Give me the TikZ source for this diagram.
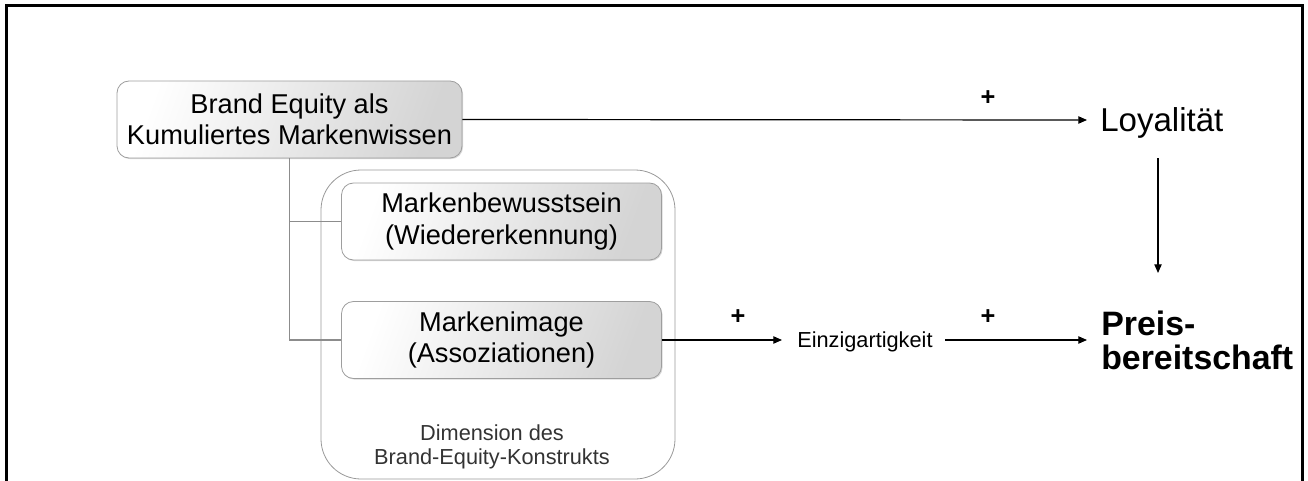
\documentclass[tikz,border=0pt]{standalone}
\usepackage{fontspec}
\setmainfont{Liberation Sans}
\usetikzlibrary{arrows.meta,shadows}

\begin{document}
\begin{tikzpicture}[x=0.75pt,y=-0.75pt,
  boxstyle/.style={draw=black!38, line width=0.6pt, rounded corners=9pt,
    left color=white, right color=black!17, shading angle=70,
    drop shadow={shadow xshift=0.8pt, shadow yshift=-0.8pt, fill=black!30, opacity=0.5},
    align=center, inner sep=0pt, text=black,
    font=\fontsize{20.4}{23.5}\selectfont},
  conn/.style={draw=black!45, line width=0.8pt},
  arr/.style={draw=black, line width=0.9pt, -{Triangle[length=6.5pt,width=5.5pt]}},
  plus/.style={font=\fontsize{19}{19}\selectfont\bfseries, inner sep=0pt},
  small/.style={font=\fontsize{16.3}{18.5}\selectfont, inner sep=0pt}]

\useasboundingbox (0,0) rectangle (1308,481);

% page frame, open at the bottom
\begin{scope}
  \clip (0,0) rectangle (1308,481);
  \draw[line width=1.6pt] (6.5,520) -- (6.5,5.5) -- (1302.5,5.5) -- (1302.5,520);

  % container of the two dimensions
  \draw[draw=black!40, line width=0.6pt, rounded corners=30pt]
    (321,170) rectangle (675,479);
\end{scope}

% boxes
\node[boxstyle, minimum width=258.75pt, minimum height=57.75pt] (be) at (289.5,119.5)
  {Brand Equity als\\Kumuliertes Markenwissen};
\node[boxstyle, minimum width=240pt, minimum height=57.75pt] (mb) at (501.5,221.5)
  {Markenbewusstsein\\(Wiedererkennung)};
\node[boxstyle, minimum width=240pt, minimum height=57.75pt] (mi) at (501.5,340)
  {Markenimage\\(Assoziationen)};

\node[small, text=black!80, align=center] (dim) at (492,447)
  {Dimension des\\Brand-Equity-Konstrukts};

% outcome texts
\node[anchor=base west, inner sep=0pt, font=\fontsize{24.8}{26}\selectfont] (lo) at (1100,132) {Loyalität};
\node[anchor=west, inner sep=0pt, align=left, font=\fontsize{25.4}{25.5}\selectfont\bfseries] (pb) at (1101,340)
  {Preis-\\bereitschaft};
\node[small, anchor=base west] (ez) at (797,347) {Einzigartigkeit};

% arrow end points
\coordinate (loIn) at (1087,120);
\coordinate (loOut) at (1158,158);
\coordinate (pbTop) at (1158,273);
\coordinate (ezIn) at (782,340);
\coordinate (ezOut) at (945,340);
\coordinate (pbIn) at (1087,340);

% tree connectors
\draw[conn] (be.south) |- (mb.west);
\draw[conn] (be.south) |- (mi.west);

% arrows
\draw[arr] (be.east) -- (loIn);
\draw[arr] (loOut) -- (pbTop);
\draw[arr] (mi.east) -- (ezIn);
\draw[arr] (ezOut) -- (pbIn);

% signs
\node[plus] (p1) at (988,98) {+};
\node[plus] (p2) at (738,317) {+};
\node[plus] (p3) at (988,317) {+};
\end{tikzpicture}
\end{document}
